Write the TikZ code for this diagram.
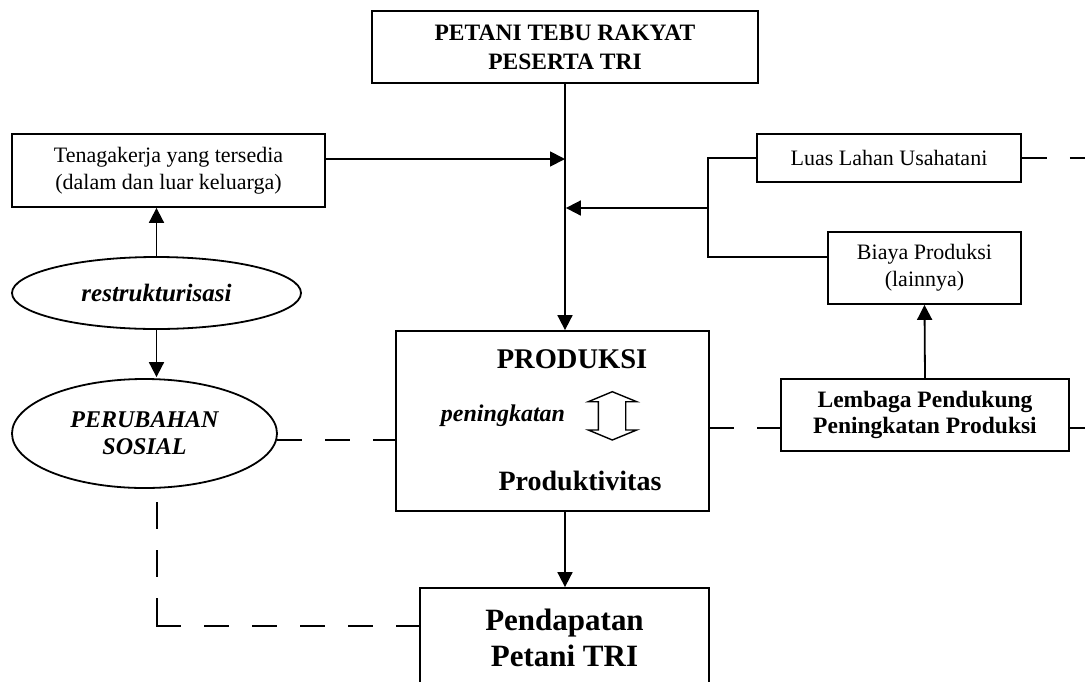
\documentclass[tikz,border=0pt]{standalone}
\usepackage{fontspec}
\setmainfont{Liberation Serif}
\usetikzlibrary{arrows.meta,shapes.geometric}
\tikzset{
  box/.style={draw,line width=1.8pt,rectangle,inner sep=0pt,align=center},
  ell/.style={draw,line width=1.8pt,ellipse,inner sep=0pt,align=center},
  ln/.style={line width=1.8pt},
  arr/.style={line width=1.8pt,-{Triangle[length=15pt,width=15pt]}},
  dsh/.style={line width=1.8pt,dash pattern=on 25pt off 23pt},
  fnorm/.style={font=\fontsize{22}{27}\selectfont},
}
\begin{document}
\begin{tikzpicture}[x=1pt,y=-1pt]
\useasboundingbox[fill=white] (0,0) rectangle (1085,681);
% boxes
\node[box,minimum width=386pt,minimum height=72pt,font=\bfseries\fontsize{23.5}{29}\selectfont] (petani) at (565,47) {PETANI TEBU RAKYAT\\PESERTA TRI};
\node[box,fnorm,minimum width=313pt,minimum height=73pt] (tenaga) at (168.5,170.5) {Tenagakerja yang tersedia\\(dalam dan luar keluarga)};
\node[box,fnorm,minimum width=264pt,minimum height=48pt] (luas) at (889,158) {Luas Lahan Usahatani};
\node[box,fnorm,minimum width=193pt,minimum height=72pt] (biaya) at (924.5,268) {Biaya Produksi\\(lainnya)};
\node[box,minimum width=313pt,minimum height=180pt] (produksi) at (552.5,421) {};
\node[box,minimum width=288pt,minimum height=72pt,font=\bfseries\fontsize{23.5}{26}\selectfont] (lembaga) at (925,415) {Lembaga Pendukung\\Peningkatan Produksi};
\node[box,minimum width=289pt,minimum height=186pt] (pendapatan) at (564.5,681) {};
\node[font=\bfseries\fontsize{31}{36}\selectfont,align=center] (pendtext) at (564.5,638) {Pendapatan\\Petani TRI};
% ellipses
\node[ell,minimum width=289pt,minimum height=72pt,font=\bfseries\itshape\fontsize{25}{27}\selectfont] (restruk) at (156.5,293) {restrukturisasi};
\node[ell,minimum width=265pt,minimum height=109pt,font=\bfseries\itshape\fontsize{24}{27}\selectfont] (perubahan) at (144.5,433.5) {PERUBAHAN\\SOSIAL};
% texts inside PRODUKSI
\node[font=\bfseries\fontsize{28.5}{30}\selectfont] (ptitle) at (572,359) {PRODUKSI};
\node[font=\bfseries\itshape\fontsize{24}{27}\selectfont] (pening) at (503,416) {peningkatan};
\node[font=\bfseries\fontsize{28}{30}\selectfont] (produk) at (580,481) {Produktivitas};
% hollow double arrow
\draw[line width=1.4pt,line join=miter] (612.3,391.7) -- (636.7,401.7) -- (625.7,401.7) -- (625.7,430) -- (636.7,430) -- (612.3,440) -- (588.3,430) -- (598.3,430) -- (598.3,401.7) -- (588.3,401.7) -- cycle;
% coordinates
\coordinate (j1) at (565,159);
\coordinate (brk) at (708,208);
\coordinate (b1) at (708,158);
\coordinate (b2) at (708,257);
\coordinate (pe) at (277,440);
\coordinate (ps) at (157,502);
\coordinate (pc) at (157,626);
\coordinate (lj) at (709,428);
\coordinate (rlimit1) at (1085,158);
\coordinate (rlimit2) at (1085,428);
% connectors
\draw[arr] (petani.south) -- (petani.south |- produksi.north);
\draw[arr] (tenaga.east |- j1) -- (j1);
\draw[ln] (luas.west) -- (b1) -- (b2) -- (b2 -| biaya.west);
\draw[arr] (brk) -- ([xshift=0.9pt]brk -| petani.south);
\draw[arr] (lembaga.north) -- (biaya.south);
\draw[arr] (restruk.north) -- (restruk.north |- tenaga.south);
\draw[arr] (restruk.south) -- ([yshift=1pt]restruk.south |- perubahan.north);
\draw[dsh] (pe) -- (pe -| produksi.west);
\draw[dsh,dash pattern=on 27pt off 21pt] (ps) -- (pc);
\draw[dsh] ([xshift=-0.9pt]pc) -- (pc -| pendapatan.west);
\draw[dsh] (lj) -- (lj -| lembaga.west);
\draw[dsh] (luas.east) -- (rlimit1);
\draw[dsh] (lj -| lembaga.east) -- (rlimit2);
\draw[arr] (petani.south |- produksi.south) -- (petani.south |- pendapatan.north);
\end{tikzpicture}
\end{document}
